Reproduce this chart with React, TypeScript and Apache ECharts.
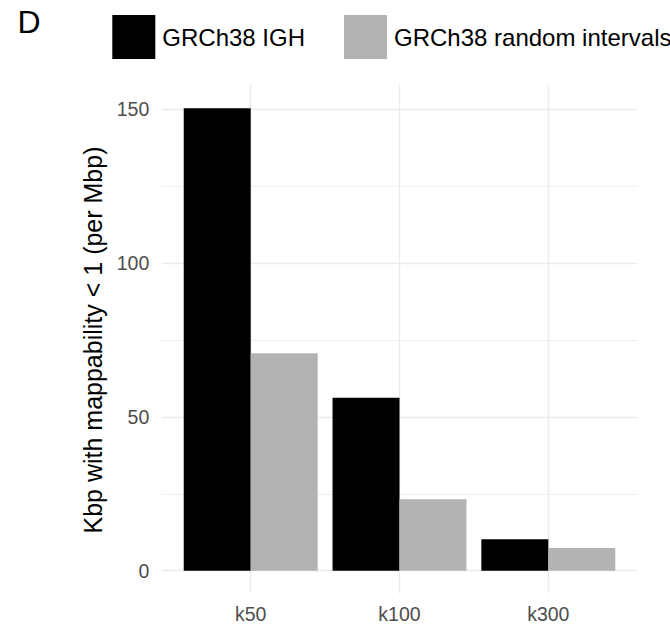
import React, { useEffect, useRef } from "react";
import * as echarts from "echarts";

const categories = ["k50", "k100", "k300"];
const seriesNames = ["GRCh38 IGH", "GRCh38 random intervals"];
const ighValues = [150.4, 56.2, 10.2];
const randomValues = [70.7, 23.2, 7.4];
const yTickMin = 0;
const yTickMax = 150;
const yTickInterval = 50;
const panelMin = -7.35;
const panelMax = 157.93;

const FONT = "'Liberation Sans', Arial, Helvetica, sans-serif";
const GRID_COLOR = "#EBEBEB";

export default function App() {
  const ref = useRef<HTMLDivElement>(null);
  useEffect(() => {
    if (!ref.current) return;
    const chart = echarts.init(ref.current, null, { renderer: "svg" });
    chart.setOption({
      animation: false,
      backgroundColor: "#ffffff",
      textStyle: { fontFamily: FONT },
      graphic: [
        {
          type: "text",
          x: 17.5,
          y: 5.7,
          style: {
            text: "D",
            fontSize: 32,
            fontFamily: FONT,
            fill: "#000000",
            verticalAlign: "top",
            align: "left",
          },
        },
      ],
      legend: {
        left: 112.3,
        top: 15,
        width: 640,
        padding: 0,
        orient: "horizontal",
        itemWidth: 43,
        itemHeight: 44,
        itemGap: 39,
        icon: "rect",
        data: seriesNames,
        textStyle: {
          fontFamily: FONT,
          fontSize: 24,
          color: "#000000",
          padding: [0, 0, 6, 2],
        },
      },
      grid: [
        // horizontal gridlines + y labels
        { left: 161.7, right: 32.7, top: 109.3, bottom: 70.3, containLabel: false },
        // vertical gridlines + x labels
        { left: 250.7, right: 121.7, top: 85, bottom: 47.7, containLabel: false },
        // bars
        { left: 176.3, right: 47.3, top: 85, bottom: 47.7, containLabel: false },
      ],
      xAxis: [
        { gridIndex: 0, type: "value", show: false, min: 0, max: 1 },
        {
          gridIndex: 1,
          type: "category",
          data: categories,
          boundaryGap: false,
          axisLine: { show: false },
          axisTick: { show: false },
          axisLabel: {
            color: "#4D4D4D",
            fontSize: 19.5,
            fontFamily: FONT,
            margin: 11,
          },
          splitLine: { show: true, lineStyle: { color: GRID_COLOR, width: 1.4 } },
        },
        {
          gridIndex: 2,
          type: "category",
          data: categories,
          boundaryGap: true,
          show: false,
        },
      ],
      yAxis: [
        {
          gridIndex: 0,
          type: "value",
          min: yTickMin,
          max: yTickMax,
          interval: yTickInterval,
          axisLine: { show: false },
          axisTick: { show: false },
          axisLabel: {
            color: "#4D4D4D",
            fontSize: 19.5,
            fontFamily: FONT,
            margin: 12.4,
          },
          splitLine: { show: true, lineStyle: { color: GRID_COLOR, width: 1.4 } },
          minorTick: { show: false, splitNumber: 2 },
          minorSplitLine: { show: true, lineStyle: { color: GRID_COLOR, width: 0.8 } },
          name: "Kbp with mappability < 1 (per Mbp)",
          nameLocation: "middle",
          nameRotate: 90,
          nameGap: 47,
          nameTextStyle: { color: "#000000", fontSize: 25, fontFamily: FONT },
        },
        { gridIndex: 1, type: "value", show: false, min: panelMin, max: panelMax },
        { gridIndex: 2, type: "value", show: false, min: panelMin, max: panelMax },
      ],
      series: [
        {
          name: seriesNames[0],
          type: "bar",
          xAxisIndex: 2,
          yAxisIndex: 2,
          data: ighValues,
          barGap: "0%",
          barCategoryGap: "10%",
          itemStyle: { color: "#000000" },
        },
        {
          name: seriesNames[1],
          type: "bar",
          xAxisIndex: 2,
          yAxisIndex: 2,
          data: randomValues,
          barGap: "0%",
          barCategoryGap: "10%",
          itemStyle: { color: "#B3B3B3" },
        },
      ],
    });
    return () => chart.dispose();
  }, []);
  return (
    <div
      ref={ref}
      style={{ position: "fixed", left: 0, top: 0, width: 670, height: 641 }}
    />
  );
}
